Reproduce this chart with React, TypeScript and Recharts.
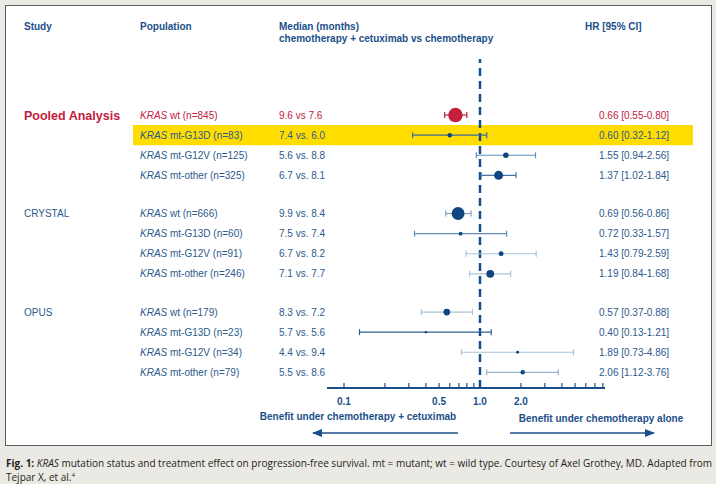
import { ReferenceArea, ReferenceLine, Scatter, ScatterChart, XAxis, YAxis, ErrorBar } from "recharts";

// values
const STUDIES = ["Pooled Analysis", "CRYSTAL", "OPUS"];
const POPULATIONS = ["wt", "mt-G13D", "mt-G12V", "mt-other"];
const SAMPLE_SIZES = [
  [845, 83, 125, 325],
  [666, 60, 91, 246],
  [179, 23, 34, 79],
];
const MEDIANS = [
  ["9.6 vs 7.6", "7.4 vs. 6.0", "5.6 vs. 8.8", "6.7 vs. 8.1"],
  ["9.9 vs. 8.4", "7.5 vs. 7.4", "6.7 vs. 8.2", "7.1 vs. 7.7"],
  ["8.3 vs. 7.2", "5.7 vs. 5.6", "4.4 vs. 9.4", "5.5 vs. 8.6"],
];
const HR = [
  [0.66, 0.6, 1.55, 1.37],
  [0.69, 0.72, 1.43, 1.19],
  [0.57, 0.4, 1.89, 2.06],
];
const CI_LOW = [
  [0.55, 0.32, 0.94, 1.02],
  [0.56, 0.33, 0.79, 0.84],
  [0.37, 0.13, 0.73, 1.12],
];
const CI_HIGH = [
  [0.8, 1.12, 2.56, 1.84],
  [0.86, 1.57, 2.59, 1.68],
  [0.88, 1.21, 4.86, 3.76],
];
const X_TICKS = [0.1, 0.2, 0.3, 0.4, 0.5, 0.6, 0.7, 0.8, 0.9, 1, 2, 3, 4, 5, 6, 7, 8];
const X_LABELS = [0.1, 0.5, 1, 2];

// styling
const BLUE = "#1b4f8a";
const TEXT_BLUE = "#2b5a8c";
const RED = "#c4203e";
const DOT = "#0f4681";
const LINE_COLORS = [
  [RED, "#3d6a96", "#5e8fba", "#4676a6"],
  ["#7fa3c4", "#5f8db7", "#a9c3d8", "#a9c3d8"],
  ["#a9c3d8", "#2e5f8f", "#a9c3d8", "#95b3cd"],
];
const GROUP_STRIDE = 4.9;
const FONT = '"Liberation Sans", Arial, sans-serif';
const HIGHLIGHT = { study: 0, row: 1, from: 0.00281, to: 36.8 };

type Row = {
  study: number;
  idx: number;
  slot: number;
  hr: number;
  err: [number, number];
  n: number;
};

const rows: Row[] = STUDIES.flatMap((_, s) =>
  POPULATIONS.map((__, i) => ({
    study: s,
    idx: i,
    slot: s * GROUP_STRIDE + i,
    hr: HR[s][i],
    err: [HR[s][i] - CI_LOW[s][i], CI_HIGH[s][i] - HR[s][i]] as [number, number],
    n: SAMPLE_SIZES[s][i],
  })),
);

function RowTick(props: any) {
  const { y, payload } = props;
  const row = rows.find((r) => Math.abs(r.slot - Number(payload?.value)) < 1e-6);
  if (!row) return <g />;
  const { study: s, idx: i } = row;
  const red = s === 0 && i === 0;
  const color = red ? RED : TEXT_BLUE;
  const hrText = `${HR[s][i].toFixed(2)} [${CI_LOW[s][i].toFixed(2)}-${CI_HIGH[s][i].toFixed(2)}]`;
  return (
    <g fontFamily={FONT} fontSize={10} fill={color}>
      {i === 0 && (
        <text
          x={24}
          y={y}
          dy={s === 0 ? 4.5 : 3.5}
          fontSize={s === 0 ? 12.5 : 10}
          fontWeight={s === 0 ? "bold" : "normal"}
          fill={s === 0 ? RED : TEXT_BLUE}
        >
          {STUDIES[s]}
        </text>
      )}
      <text x={140} y={y} dy={3.5}>
        <tspan fontStyle="italic">KRAS</tspan>
        {` ${POPULATIONS[i]} (n=${SAMPLE_SIZES[s][i]})`}
      </text>
      <text x={279} y={y} dy={3.5}>
        {MEDIANS[s][i]}
      </text>
      <text x={599} y={y} dy={3.5}>
        {hrText}
      </text>
    </g>
  );
}

function HrTick(props: any) {
  const { x, y, payload } = props;
  const v = payload.value as number;
  return (
    <g>
      <line x1={x} y1={y} x2={x} y2={y - 5} stroke={BLUE} strokeWidth={1.2} />
      {X_LABELS.includes(v) && (
        <text x={x} y={y + 17} textAnchor="middle" fontFamily={FONT} fontSize={10} fontWeight="bold" fill={BLUE}>
          {v.toFixed(1)}
        </text>
      )}
    </g>
  );
}

function Dot(props: any) {
  const { cx, cy, payload } = props;
  const red = payload.study === 0 && payload.idx === 0;
  return <circle cx={cx} cy={cy} r={Math.sqrt(payload.n) / 4} fill={red ? RED : DOT} />;
}

export default function App() {
  return (
    <div style={{ position: "absolute", left: 0, top: 0, width: 716, height: 484, background: "#ebe9e4", overflow: "hidden" }}>
      <div
        style={{
          position: "absolute",
          left: 5,
          top: 5,
          width: 705,
          height: 439,
          background: "#fff",
          border: "1.5px solid #5b5b5b",
        }}
      />
      <div style={{ position: "absolute", left: 0, top: 0 }}>
        <ScatterChart width={716} height={484} margin={{ top: 59, right: 111, bottom: 66, left: 317 }}>
          <ReferenceArea
            x1={HIGHLIGHT.from}
            x2={HIGHLIGHT.to}
            y1={HIGHLIGHT.study * GROUP_STRIDE + HIGHLIGHT.row - 0.5}
            y2={HIGHLIGHT.study * GROUP_STRIDE + HIGHLIGHT.row + 0.5}
            fill="#ffdd00"
            fillOpacity={1}
            stroke="none"
            ifOverflow="visible"
          />
          <XAxis
            type="number"
            dataKey="hr"
            scale="log"
            domain={[0.075, 8.3]}
            allowDataOverflow
            ticks={X_TICKS}
            interval={0}
            tickSize={0}
            tickMargin={0}
            tickLine={false}
            axisLine={{ stroke: BLUE, strokeWidth: 2 }}
            tick={<HrTick />}
            height={30}
          />
          <YAxis
            type="number"
            dataKey="slot"
            domain={[-2.79, 13.58]}
            allowDataOverflow
            reversed
            width={10}
            ticks={rows.map((r) => r.slot)}
            interval={0}
            axisLine={false}
            tickLine={false}
            tick={(p: any) => <RowTick {...p} />}
          />
          <ReferenceLine x={1} stroke="#14508c" strokeWidth={2.5} strokeDasharray="8 5" />
          {rows.map((r) => (
            <Scatter key={`${r.study}-${r.idx}`} data={[r]} shape={<Dot />} isAnimationActive={false}>
              <ErrorBar
                dataKey="err"
                direction="x"
                width={3}
                stroke={LINE_COLORS[r.study][r.idx]}
                strokeWidth={1.2}
                isAnimationActive={false}
              />
            </Scatter>
          ))}
        </ScatterChart>
      </div>
      <svg width={716} height={484} style={{ position: "absolute", left: 0, top: 0, pointerEvents: "none" }}>
        <defs>
          <marker id="head" viewBox="0 0 10 10" refX="9" refY="5" markerWidth="7" markerHeight="7" orient="auto-start-reverse">
            <path d="M0,1 L10,5 L0,9 z" fill={BLUE} />
          </marker>
        </defs>
        <g fontFamily={FONT} fontSize={10} fontWeight="bold" fill={BLUE}>
          <text x={24} y={30}>Study</text>
          <text x={140} y={30}>Population</text>
          <text x={279} y={30}>Median (months)</text>
          <text x={279} y={42}>chemotherapy + cetuximab vs chemotherapy</text>
          <text x={585} y={30}>HR [95% CI]</text>
          <text x={358} y={420} textAnchor="middle">Benefit under chemotherapy + cetuximab</text>
          <text x={601} y={422} textAnchor="middle">Benefit under chemotherapy alone</text>
        </g>
        <line x1={458} y1={433} x2={313} y2={433} stroke={BLUE} strokeWidth={1.5} markerEnd="url(#head)" />
        <line x1={510} y1={433} x2={654} y2={433} stroke={BLUE} strokeWidth={1.5} markerEnd="url(#head)" />
      </svg>
      <div
        style={{
          position: "absolute",
          left: 6,
          top: 456,
          fontFamily: '"Open Sans", sans-serif',
          fontSize: 10,
          lineHeight: "14px",
          color: "#231f20",
          whiteSpace: "nowrap",
        }}
      >
        <div>
          <b>Fig. 1:</b> <i>KRAS</i> mutation status and treatment effect on progression-free survival. mt = mutant; wt = wild type. Courtesy of Axel Grothey, MD. Adapted from
        </div>
        <div>
          Tejpar X, et al.<sup style={{ fontSize: 6, verticalAlign: "super", lineHeight: 0 }}>4</sup>
        </div>
      </div>
    </div>
  );
}
